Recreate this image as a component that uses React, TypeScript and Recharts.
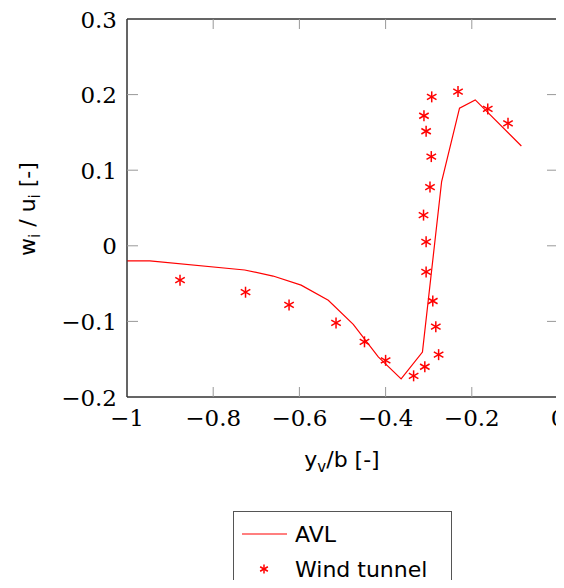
import {
  ComposedChart,
  Line,
  Scatter,
  XAxis,
  YAxis,
  Legend,
  ReferenceArea,
} from 'recharts';

// AVL prediction
const avlY = [-1, -0.947, -0.727, -0.661, -0.596, -0.533, -0.475, -0.417, -0.364, -0.3145, -0.27, -0.2285, -0.192, -0.085];
const avlW = [-0.02, -0.02, -0.032, -0.04, -0.052, -0.072, -0.104, -0.147, -0.176, -0.1405, 0.085, 0.182, 0.193, 0.132];

// wind tunnel measurements
const wtY = [-0.877, -0.725, -0.624, -0.515, -0.449, -0.4, -0.335, -0.309, -0.277, -0.2835, -0.2905, -0.306, -0.306, -0.312, -0.297, -0.294, -0.306, -0.311, -0.293, -0.232, -0.163, -0.116];
const wtW = [-0.0455, -0.0614, -0.0782, -0.102, -0.127, -0.1515, -0.172, -0.16, -0.144, -0.107, -0.073, -0.0345, 0.0053, 0.0406, 0.0777, 0.118, 0.1515, 0.172, 0.197, 0.204, 0.181, 0.162];

const xTicks = [-1, -0.8, -0.6, -0.4, -0.2, 0];
const yTicks = [-0.2, -0.1, 0, 0.1, 0.2, 0.3];
const xInner = [-0.8, -0.6, -0.4, -0.2];
const yInner = [-0.1, 0, 0.1, 0.2];

const avlData = avlY.map((x, i) => ({ x, y: avlW[i] }));
const wtData = wtY.map((x, i) => ({ x, y: wtW[i] }));

// top and right edges of the box
const frameData = [
  { x: -1, y: 0.3 },
  { x: 0, y: 0.3 },
  { x: 0, y: -0.2 },
];
const topTicks = xInner.map((x) => ({ x, y: 0.3 }));
const bottomTicks = xInner.map((x) => ({ x, y: -0.2 }));
const leftTicks = yInner.map((y) => ({ x: -1, y }));
const rightTicks = yInner.map((y) => ({ x: 0, y }));

const RED = '#ff0000';
const TICK = '#999999';
const FRAME = '#333333';
const SERIF = '"DejaVu Serif", serif';
const SANS = '"DejaVu Sans", sans-serif';

const fmt = (v: number) => (v === 0 ? '0' : v < 0 ? '\u2212' + Math.abs(v) : String(v));

const Star = ({ cx, cy, r = 5.5 }: { cx: number; cy: number; r?: number }) => {
  const dx = r * 0.866;
  const dy = r * 0.5;
  return (
    <g stroke={RED} strokeWidth={1.5}>
      <line x1={cx} y1={cy - r} x2={cx} y2={cy + r} />
      <line x1={cx - dx} y1={cy - dy} x2={cx + dx} y2={cy + dy} />
      <line x1={cx - dx} y1={cy + dy} x2={cx + dx} y2={cy - dy} />
    </g>
  );
};

// inward tick mark, dx/dy point into the plot
const tickMark = (dx: number, dy: number) => (p: any) => (
  <line x1={p.cx} y1={p.cy} x2={p.cx + dx} y2={p.cy + dy} stroke={TICK} strokeWidth={1} />
);

// default tickSize 6 + tickMargin 2 => label anchor sits 8px off the axis
const BottomTick = (p: any) => (
  <text x={p.x} y={p.y + 21} textAnchor="middle" fontFamily={SERIF} fontSize={23} fill="#000">
    {fmt(p.payload.value)}
  </text>
);

const LeftTick = (p: any) => (
  <text x={p.x - 2} y={p.y + 8.5} textAnchor="end" fontFamily={SERIF} fontSize={23} fill="#000">
    {fmt(p.payload.value)}
  </text>
);

const LegendBox = () => (
  <div
    style={{
      width: 219,
      height: 78,
      border: '1px solid #555',
      boxSizing: 'border-box',
      background: '#fff',
      position: 'relative',
    }}
  >
    <svg width={219} height={78} style={{ position: 'absolute', left: 0, top: 0 }}>
      <line x1={8} y1={22} x2={53} y2={22} stroke={RED} strokeWidth={1.2} />
      <Star cx={30} cy={57} r={4.5} />
      <text x={61} y={30} fontFamily={SANS} fontSize={22} fill="#000">AVL</text>
      <text x={61} y={65} fontFamily={SANS} fontSize={22} fill="#000">Wind tunnel</text>
    </svg>
  </div>
);

export default function App() {
  return (
    <div style={{ margin: -8 }}>
      <ComposedChart width={564} height={588} margin={{ top: 19, right: 6, bottom: 161, left: 0 }}>
        <XAxis
          dataKey="x"
          type="number"
          domain={[-1, 0]}
          ticks={xTicks}
          height={30}
          tickLine={false}
          axisLine={{ stroke: FRAME }}
          tick={BottomTick}
          interval={0}
        />
        <YAxis
          type="number"
          domain={[-0.2, 0.3]}
          ticks={yTicks}
          width={127}
          tickLine={false}
          axisLine={{ stroke: FRAME }}
          tick={LeftTick}
          interval={0}
        />
        <Line
          data={avlData}
          dataKey="y"
          type="linear"
          stroke={RED}
          strokeWidth={1.2}
          dot={false}
          isAnimationActive={false}
          name="AVL"
        />
        <Scatter
          data={wtData}
          dataKey="y"
          fill={RED}
          shape={(p: any) => <Star cx={p.cx} cy={p.cy} />}
          isAnimationActive={false}
          name="Wind tunnel"
        />
        {/* box frame and inward ticks, drawn after the data */}
        <ReferenceArea x1={-1} x2={0} y1={-0.2} y2={0.3} fill="none" fillOpacity={0} stroke={FRAME} strokeWidth={1} />
        <Line
          data={frameData}
          dataKey="y"
          type="linear"
          stroke={FRAME}
          strokeWidth={1}
          dot={false}
          legendType="none"
          isAnimationActive={false}
        />
        <Scatter data={topTicks} dataKey="y" shape={tickMark(0, 10)} legendType="none" isAnimationActive={false} />
        <Scatter data={bottomTicks} dataKey="y" shape={tickMark(0, -10)} legendType="none" isAnimationActive={false} />
        <Scatter data={leftTicks} dataKey="y" shape={tickMark(11, 0)} legendType="none" isAnimationActive={false} />
        <Scatter data={rightTicks} dataKey="y" shape={tickMark(-11, 0)} legendType="none" isAnimationActive={false} />
        <Legend
          verticalAlign="middle"
          align="center"
          content={LegendBox}
          wrapperStyle={{ left: 233, top: 511, width: 219, height: 78 }}
        />
        <text x={342} y={467} textAnchor="middle" fontFamily={SANS} fontSize={22} fill="#000">
          y<tspan dy={5} fontSize={15}>v</tspan>
          <tspan dy={-5}>/b [-]</tspan>
        </text>
        <text
          transform="translate(35, 209) rotate(-90)"
          textAnchor="middle"
          fontFamily={SANS}
          fontSize={22}
          fill="#000"
        >
          w<tspan dy={5} fontSize={15}>i</tspan>
          <tspan dy={-5}> / u</tspan>
          <tspan dy={5} fontSize={15}>i</tspan>
          <tspan dy={-5}> [-]</tspan>
        </text>
      </ComposedChart>
    </div>
  );
}
